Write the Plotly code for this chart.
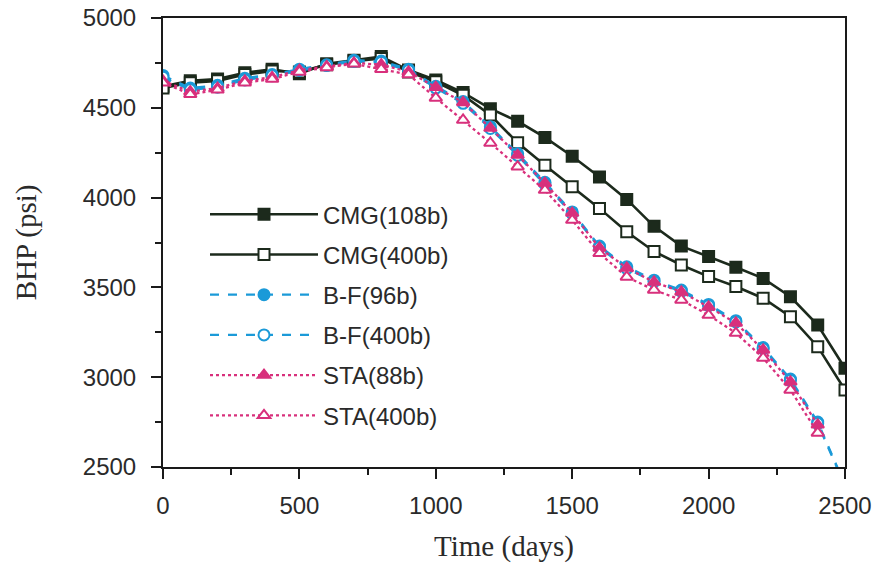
import plotly.graph_objects as go

days = [0, 100, 200, 300, 400, 500, 600, 700, 800, 900, 1000, 1100, 1200,
        1300, 1400, 1500, 1600, 1700, 1800, 1900, 2000, 2100, 2200, 2300, 2400, 2500]

cmg_108 = [4620, 4650, 4660, 4695, 4715, 4690, 4745, 4765, 4785, 4710, 4655, 4585, 4495,
           4425, 4335, 4230, 4115, 3990, 3840, 3730, 3672, 3612, 3550, 3448, 3290, 3050]
cmg_400 = [4610, 4640, 4650, 4685, 4705, 4700, 4740, 4760, 4775, 4700, 4645, 4570, 4460,
           4305, 4180, 4060, 3940, 3810, 3700, 3625, 3560, 3505, 3440, 3337, 3170, 2929]
bf_96 = [4680, 4610, 4625, 4665, 4685, 4715, 4740, 4765, 4760, 4715, 4620, 4535, 4395,
         4245, 4085, 3920, 3730, 3615, 3540, 3485, 3405, 3315, 3165, 2990, 2750, 2400]
bf_400 = [4670, 4600, 4615, 4655, 4678, 4708, 4735, 4758, 4752, 4708, 4610, 4525, 4385,
          4235, 4075, 3910, 3722, 3605, 3532, 3478, 3398, 3308, 3158, 2982, 2742, 2395]
sta_days = days[:-1]
sta_88 = [4650, 4590, 4610, 4650, 4670, 4710, 4730, 4750, 4740, 4700, 4615, 4530, 4387,
          4237, 4080, 3914, 3720, 3608, 3530, 3475, 3391, 3302, 3152, 2974, 2735]
sta_400 = [4640, 4575, 4600, 4640, 4660, 4700, 4725, 4745, 4715, 4685, 4555, 4432, 4304,
           4172, 4042, 3875, 3690, 3558, 3486, 3430, 3346, 3246, 3107, 2929, 2690]

black = "#1c2a1c"
blue = "#1b9ad8"
pink = "#d8307c"

fig = go.Figure()

series = [
    ("CMG(108b)", days, cmg_108, black, "solid", 2.6, "square", black),
    ("CMG(400b)", days, cmg_400, black, "solid", 2.6, "square", "white"),
    ("B-F(96b)", days, bf_96, blue, "dash", 2.3, "circle", blue),
    ("B-F(400b)", days, bf_400, blue, "dash", 2.3, "circle", "white"),
    ("STA(88b)", sta_days, sta_88, pink, "dot", 2.3, "triangle-up", pink),
    ("STA(400b)", sta_days, sta_400, pink, "dot", 2.3, "triangle-up", "white"),
]

for i, (name, x, y, col, dash, w, sym, fill) in enumerate(series):
    fig.add_trace(go.Scatter(
        x=x, y=y, name=name, mode="lines+markers",
        line=dict(color=col, width=w, dash=dash),
        marker=dict(symbol=sym, size=11, color=fill, line=dict(color=col, width=2)),
        legendgroup=f"g{i}",
    ))

axis_common = dict(
    showgrid=False, zeroline=False, showline=True, linecolor="#1a1a1a", linewidth=2,
    mirror=True, ticks="outside", ticklen=10, tickwidth=2, tickcolor="#1a1a1a",
    automargin=False,
    tickfont=dict(family="Liberation Sans, Arial, sans-serif", size=24, color="#2a2a2a"),
)
title_font = dict(family="Liberation Serif, Times New Roman, serif", size=29, color="#2a2a2a")

fig.update_xaxes(
    range=[0, 2500], tickvals=[0, 500, 1000, 1500, 2000, 2500],
    minor=dict(dtick=250, ticklen=6, tickwidth=2, tickcolor="#1a1a1a", ticks="outside"),
    ticklabelstandoff=6,
    title=dict(text="Time (days)", font=title_font, standoff=18),
    **axis_common,
)
fig.update_yaxes(
    range=[2500, 5000], tickvals=[2500, 3000, 3500, 4000, 4500, 5000],
    minor=dict(dtick=250, ticklen=6, tickwidth=2, tickcolor="#1a1a1a", ticks="outside"),
    ticklabelstandoff=10,
    title=dict(text="BHP (psi)", font=title_font, standoff=38),
    **axis_common,
)

fig.update_layout(
    width=879, height=568,
    margin=dict(l=163, r=34, t=18, b=101, autoexpand=False),
    paper_bgcolor="white", plot_bgcolor="white",
    showlegend=True,
    legend=dict(
        x=(205 - 163) / 682, y=0.612, xanchor="left", yanchor="top",
        bgcolor="rgba(255,255,255,0)", borderwidth=0,
        font=dict(family="Liberation Sans, Arial, sans-serif", size=24, color="#2a2a2a"),
        traceorder="grouped", tracegroupgap=6, itemwidth=108,
    ),
)

fig.write_html("out.html")
